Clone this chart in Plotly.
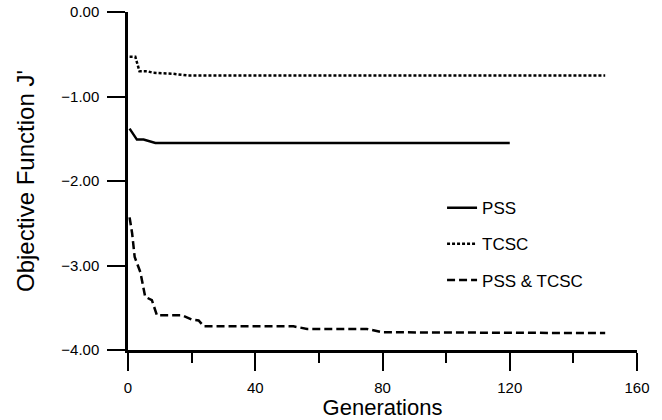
import plotly.graph_objects as go

# Data
pss_x = [0.5, 1.8, 2.8, 4.9, 7.5, 8.6, 120]
pss_y = [-1.38, -1.46, -1.51, -1.51, -1.54, -1.55, -1.55]

tcsc_x = [0.5, 2.3, 3.6, 6, 8, 13.8, 18.5, 150]
tcsc_y = [-0.53, -0.53, -0.70, -0.70, -0.72, -0.73, -0.75, -0.75]

both_x = [0.5, 1.3, 2.1, 3.1, 3.9, 5.4, 7.5, 9.1, 17, 20.1, 22.2, 23.8, 52, 56.3, 75, 80, 150]
both_y = [-2.43, -2.62, -2.90, -3.00, -3.08, -3.37, -3.41, -3.59, -3.59, -3.64, -3.65,
          -3.72, -3.72, -3.75, -3.75, -3.79, -3.80]

names = ["PSS", "TCSC", "PSS & TCSC"]
y_ticks = [0, -1, -2, -3, -4]
x_ticks = [0, 40, 80, 120, 160]

FONT = "Liberation Sans, Arial, sans-serif"

fig = go.Figure()
fig.add_trace(go.Scatter(x=pss_x, y=pss_y, mode="lines", name=names[0], legendgroup="a",
                         line=dict(color="black", width=2.5, dash="solid")))
fig.add_trace(go.Scatter(x=tcsc_x, y=tcsc_y, mode="lines", name=names[1], legendgroup="b",
                         line=dict(color="black", width=2.5, dash="3px,2px")))
fig.add_trace(go.Scatter(x=both_x, y=both_y, mode="lines", name=names[2], legendgroup="c",
                         line=dict(color="black", width=2.5, dash="8px,4px")))

fig.update_layout(
    width=662, height=420,
    margin=dict(l=128, r=25, t=12, b=70),
    paper_bgcolor="white", plot_bgcolor="white",
    font=dict(family=FONT, color="black"),
    showlegend=True,
    legend=dict(x=0.617, y=0.473, xanchor="left", yanchor="top",
                font=dict(size=17, family=FONT), tracegroupgap=11,
                bgcolor="rgba(0,0,0,0)"),
    xaxis=dict(range=[0, 160], tickvals=x_ticks, showgrid=False, zeroline=False,
               automargin=False,
               showline=True, linecolor="black", linewidth=2.5,
               ticks="outside", ticklen=18, tickwidth=2, tickcolor="black",
               ticklabelstandoff=4,
               tickfont=dict(size=15),
               minor=dict(dtick=20, tick0=0, ticks="outside", ticklen=10, tickwidth=2,
                          tickcolor="black", showgrid=False),
               title=dict(text="Generations", font=dict(size=22), standoff=0)),
    yaxis=dict(range=[-4, 0], tickvals=y_ticks, tickformat=".2f", showgrid=False,
               automargin=False,
               zeroline=False, showline=True, linecolor="black", linewidth=2.5,
               ticks="outside", ticklen=18, tickwidth=2, tickcolor="black",
               ticklabelstandoff=5,
               tickfont=dict(size=15),
               title=dict(text="Objective Function J'", font=dict(size=24), standoff=20)),
)

fig.write_html("out.html",
               config={"displayModeBar": False},
               post_script="document.body.style.margin='0';document.body.style.padding='0';")
